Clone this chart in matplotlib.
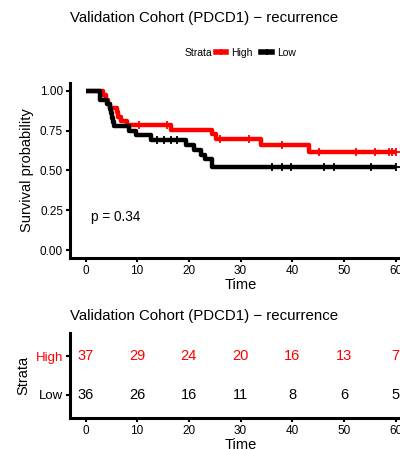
import matplotlib
matplotlib.use("Agg")
import matplotlib.pyplot as plt
from matplotlib.lines import Line2D

plt.rcParams['font.family'] = ['Liberation Sans', 'DejaVu Sans']

title = "Validation Cohort (PDCD1) \u2212 recurrence"
strata = ["High", "Low"]
colors = {"High": "#FF0000", "Low": "#000000"}

# Kaplan-Meier step data (time, survival)
high_t = [0, 3.3, 4.0, 4.4, 4.8, 6.0, 6.3, 6.8, 8.0, 16.5, 24.5, 25.2, 33.9, 43.2, 60]
high_s = [1.0, 0.973, 0.946, 0.919, 0.892, 0.865, 0.838, 0.811, 0.784, 0.757, 0.73, 0.70, 0.66, 0.617, 0.617]
high_cens_t = [10.3, 15.8, 26.1, 31.6, 38.1, 45.2, 52.3, 56.1, 58.7, 59.4, 60]

low_t = [0, 2.9, 4.2, 4.8, 5.0, 5.2, 5.4, 5.6, 8.5, 9.8, 12.6, 19.4, 21.0, 22.3, 23.2, 24.5, 60]
low_s = [1.0, 0.944, 0.917, 0.889, 0.861, 0.833, 0.806, 0.778, 0.75, 0.722, 0.694, 0.66, 0.63, 0.60, 0.57, 0.52, 0.52]
low_cens_t = [13.9, 15.2, 16.5, 17.7, 36.1, 38.1, 39.7, 46.1, 48.1, 55.2, 60]

pval_text = "p = 0.34"

risk_times = [0, 10, 20, 30, 40, 50, 60]
risk_high = [37, 29, 24, 20, 16, 13, 7]
risk_low = [36, 26, 16, 11, 8, 6, 5]

x_ticks = [0, 10, 20, 30, 40, 50, 60]
y_ticks = [0.00, 0.25, 0.50, 0.75, 1.00]


def surv_at(ts, ss, t):
    v = ss[0]
    for a, b in zip(ts, ss):
        if a <= t:
            v = b
    return v


fig = plt.figure(figsize=(4.0, 4.49), dpi=100)

# ---- main KM plot
ax = fig.add_axes([0.175, 0.4254, 0.8525, 0.3898])
lw = 3.2
for name, ts, ss, cts in [("High", high_t, high_s, high_cens_t), ("Low", low_t, low_s, low_cens_t)]:
    c = colors[name]
    z = 3 if name == "Low" else 2
    ax.step(ts, ss, where='post', color=c, lw=lw, solid_capstyle='butt', zorder=z)
    cy = [surv_at(ts, ss, t) for t in cts]
    ax.plot(cts, cy, linestyle='none', marker='+', ms=6, mew=1.3, color=c, zorder=z)

ax.set_xlim(-3, 63)
ax.set_ylim(-0.05, 1.05)
ax.set_xticks(x_ticks)
ax.set_yticks(y_ticks)
ax.set_yticklabels([f"{v:.2f}" for v in y_ticks])
ax.tick_params(axis='both', labelsize=8.5, length=3, width=1.5, color='black', pad=2)
for s in ['top', 'right']:
    ax.spines[s].set_visible(False)
for s in ['left', 'bottom']:
    ax.spines[s].set_linewidth(2.2)
ax.set_xlabel("Time", fontsize=10.5, labelpad=1)
ax.set_ylabel("Survival probability", fontsize=10.5, labelpad=4)
ax.text(1, 0.21, pval_text, fontsize=9.8, ha='left', va='center')

# title
fig.text(70 / 400, 1 - 18 / 449, title, fontsize=10.8, ha='left', va='center')

# legend
fig.text(185 / 400, 1 - 53 / 449, "Strata", fontsize=7.5, ha='left', va='center')
handles = [Line2D([0], [0], color=colors[n], lw=4, marker='+', ms=5, mew=1.2) for n in strata]
fig.legend(handles, strata, loc='center left', bbox_to_anchor=(216 / 400, 1 - 53 / 449),
           ncol=2, frameon=False, fontsize=7.5, handlelength=1.0, handletextpad=0.5,
           columnspacing=0.8, borderpad=0, borderaxespad=0)

# ---- risk table
ax2 = fig.add_axes([0.175, 0.069, 0.8525, 0.189])
ax2.set_xlim(-3, 63)
ax2.set_ylim(0.4, 2.6)
for t, h, l in zip(risk_times, risk_high, risk_low):
    ax2.text(t, 2, str(h), color=colors["High"], ha='center', va='center', fontsize=10.5)
    ax2.text(t, 1, str(l), color=colors["Low"], ha='center', va='center', fontsize=10.5)
ax2.set_xticks(x_ticks)
ax2.set_yticks([2, 1])
ax2.set_yticklabels(["High", "Low"], fontsize=9.5)
for lbl, n in zip(ax2.get_yticklabels(), ["High", "Low"]):
    lbl.set_color(colors[n])
ax2.tick_params(axis='both', length=3, width=1.5, color='black', pad=2)
ax2.tick_params(axis='x', labelsize=8.5)
for s in ['top', 'right']:
    ax2.spines[s].set_visible(False)
for s in ['left', 'bottom']:
    ax2.spines[s].set_linewidth(2.2)
ax2.set_xlabel("Time", fontsize=10.5, labelpad=1)
ax2.set_ylabel("Strata", fontsize=10.5, labelpad=4)
fig.text(70 / 400, 1 - 316 / 449, title, fontsize=10.8, ha='left', va='center')

fig.savefig("out.png", dpi=100)
